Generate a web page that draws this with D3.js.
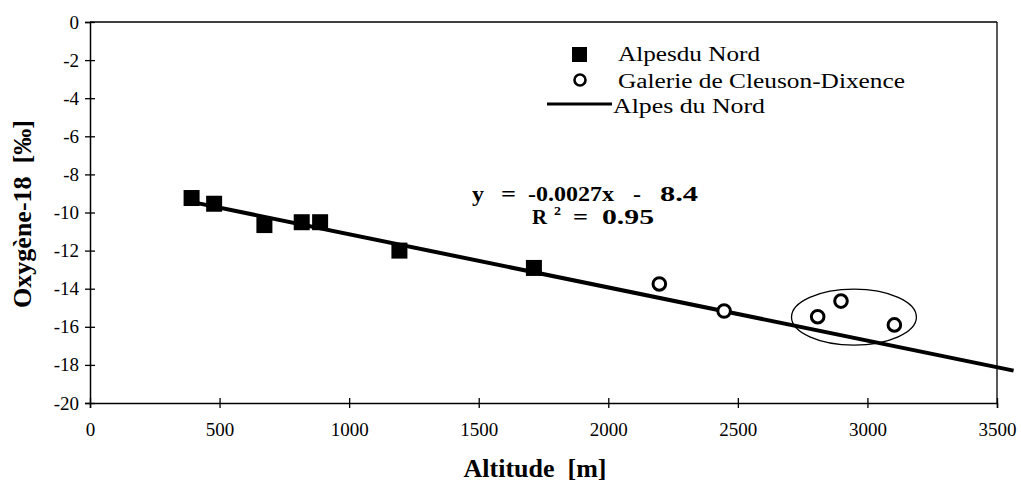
<!DOCTYPE html>
<html><head><meta charset="utf-8">
<script src="https://cdn.jsdelivr.net/npm/d3@7"></script>
<style>
html,body{margin:0;padding:0;background:#fff;}
svg{display:block;}
svg text{font-family:"Liberation Serif","Times New Roman","DejaVu Serif",serif !important;fill:#000;}
</style></head>
<body><svg id="c" width="1021" height="484"></svg>
<script>
// ---- data ----
const alpesAlt = [392, 479, 673, 817, 888, 1194, 1713];
const alpesO18 = [-9.24, -9.54, -10.66, -10.51, -10.51, -12.0, -12.91];
const dixAlt = [2197, 2447, 2808, 2898, 3104];
const dixO18 = [-13.75, -15.17, -15.47, -14.65, -15.9];
const fitAlt = [405, 3564];
const fitO18 = [-9.48, -18.3];
const groupCenter = [2948, -15.49];
const groupRadius = [241, 1.47];
const xTicks = [0, 500, 1000, 1500, 2000, 2500, 3000, 3500];
const yTicks = [0, -2, -4, -6, -8, -10, -12, -14, -16, -18, -20];
const legendLabels = ["Alpesdu Nord", "Galerie de Cleuson-Dixence", "Alpes du Nord"];
const eqParts = ["y", "=", "-0.0027x", "-", "8.4"];
const r2Parts = ["R", "2", "=", "0.95"];
const xTitle = "Altitude  [m]";
const yTitle = "Oxygène-18  [‰]";

const svg = d3.select("#c");
const x = d3.scaleLinear().domain([0, 3500]).range([90, 997]);
const y = d3.scaleLinear().domain([-20, 0]).range([403, 22]);

// frame
svg.append("line").attr("x1", x(0)).attr("x2", x(3500)).attr("y1", y(0)).attr("y2", y(0)).attr("stroke", "#000").attr("stroke-width", 1.3);
svg.append("line").attr("x1", x(3500)).attr("x2", x(3500)).attr("y1", y(0)).attr("y2", y(-20)).attr("stroke", "#000").attr("stroke-width", 1.3);

// axes
const ax = svg.append("g").attr("transform", `translate(0,${y(-20)})`)
  .call(d3.axisBottom(x).tickValues(xTicks).tickSize(5).tickPadding(15).tickFormat(d3.format("d")));
ax.selectAll(".tick line").attr("y1", -5);
const ay = svg.append("g").attr("transform", `translate(${x(0)},0)`)
  .call(d3.axisLeft(y).tickValues(yTicks).tickSize(5).tickPadding(6).tickFormat(d => String(d)));
ay.selectAll(".tick line").attr("x1", 5);
[ax, ay].forEach(a => {
  a.select(".domain").attr("stroke", "#000").attr("stroke-width", 1.5);
  a.selectAll(".tick line").attr("stroke", "#000").attr("stroke-width", 1.3);
});
ax.selectAll("text").attr("font-size", 19);
ay.selectAll("text").attr("font-size", 19);

// regression line
svg.append("path")
  .datum(fitAlt.map((a, i) => [a, fitO18[i]]))
  .attr("d", d3.line().x(d => x(d[0])).y(d => y(d[1])))
  .attr("stroke", "#000").attr("stroke-width", 4).attr("fill", "none");

// ellipse
svg.append("ellipse")
  .attr("cx", x(groupCenter[0])).attr("cy", y(groupCenter[1]))
  .attr("rx", x(groupCenter[0] + groupRadius[0]) - x(groupCenter[0]))
  .attr("ry", y(groupCenter[1] - groupRadius[1]) - y(groupCenter[1]))
  .attr("fill", "none").attr("stroke", "#000").attr("stroke-width", 1.3);

// squares
svg.selectAll("rect.sq").data(alpesAlt).enter().append("rect").attr("class", "sq")
  .attr("x", d => x(d) - 8).attr("y", (d, i) => y(alpesO18[i]) - 8)
  .attr("width", 16).attr("height", 16).attr("fill", "#000");

// circles
svg.selectAll("circle.ci").data(dixAlt).enter().append("circle").attr("class", "ci")
  .attr("cx", d => x(d)).attr("cy", (d, i) => y(dixO18[i]))
  .attr("r", 6.3).attr("fill", "#fff").attr("stroke", "#000").attr("stroke-width", 3);

// legend
const lg = svg.append("g").attr("font-size", 20);
lg.append("rect").attr("x", 572).attr("y", 47).attr("width", 15).attr("height", 15).attr("fill", "#000");
lg.append("text").attr("x", 618).attr("y", 61).attr("textLength", 142).attr("lengthAdjust", "spacingAndGlyphs").text(legendLabels[0]);
lg.append("circle").attr("cx", 580).attr("cy", 80).attr("r", 5.5).attr("fill", "#fff").attr("stroke", "#000").attr("stroke-width", 2.6);
lg.append("text").attr("x", 618).attr("y", 88).attr("textLength", 287).attr("lengthAdjust", "spacingAndGlyphs").text(legendLabels[1]);
lg.append("line").attr("x1", 547).attr("x2", 612).attr("y1", 104).attr("y2", 104).attr("stroke", "#000").attr("stroke-width", 3);
lg.append("text").attr("x", 613).attr("y", 113).attr("textLength", 152).attr("lengthAdjust", "spacingAndGlyphs").text(legendLabels[2]);

// equation (pieces positioned as in the reference)
const eqX = [472, 501, 528, 633, 660];
const eqW = [12, 15, 86, 8, 38];
const eq = svg.append("g").attr("font-size", 21).attr("font-weight", "bold");
eqParts.forEach((t, i) => {
  eq.append("text").attr("x", eqX[i]).attr("y", 201).attr("textLength", eqW[i]).attr("lengthAdjust", "spacingAndGlyphs").text(t);
});
const r2X = [532, 554, 573, 602];
const r2Y = [224, 215, 224, 224];
const r2W = [15, 7, 15, 52];
const r2S = [21, 12, 21, 21];
r2Parts.forEach((t, i) => {
  eq.append("text").attr("x", r2X[i]).attr("y", r2Y[i]).attr("font-size", r2S[i]).attr("textLength", r2W[i]).attr("lengthAdjust", "spacingAndGlyphs").text(t);
});

// axis titles
svg.append("text").attr("x", 535).attr("y", 477).attr("text-anchor", "middle")
  .attr("font-size", 26).attr("font-weight", "bold").style("white-space", "pre").text(xTitle);
svg.append("text").attr("transform", "translate(31,214) rotate(-90)").attr("text-anchor", "middle")
  .attr("font-size", 26).attr("font-weight", "bold").style("white-space", "pre").text(yTitle);
</script></body></html>
